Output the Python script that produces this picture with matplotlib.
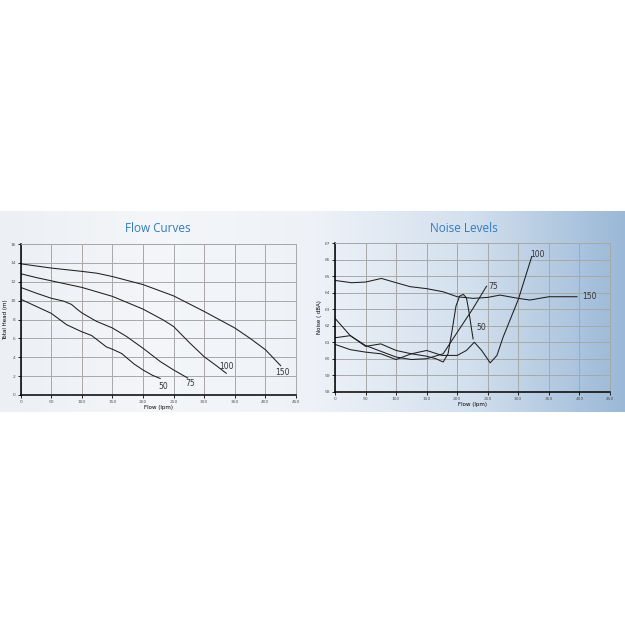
import numpy as np
import matplotlib
matplotlib.use("Agg")
import matplotlib.pyplot as plt
from matplotlib.colors import LinearSegmentedColormap

# Flow curves: flow (lpm) vs total head (m), per pump size
flow_50 = [0, 25, 50, 75, 100, 116, 128, 140, 150, 165, 185, 200, 215, 228]
head_50 = [10.15, 9.4, 8.65, 7.45, 6.7, 6.3, 5.7, 5.1, 4.85, 4.4, 3.3, 2.65, 2.1, 1.75]
flow_75 = [0, 25, 50, 70, 83, 92, 100, 124, 150, 173, 200, 228, 250, 273]
head_75 = [11.4, 10.8, 10.25, 9.95, 9.6, 9.1, 8.7, 7.8, 7.1, 6.2, 4.95, 3.55, 2.65, 1.8]
flow_100 = [0, 25, 50, 100, 150, 200, 233, 250, 275, 300, 320, 336]
head_100 = [12.85, 12.45, 12.1, 11.4, 10.45, 9.1, 7.95, 7.25, 5.6, 4.05, 3.1, 2.3]
flow_150 = [0, 50, 100, 125, 150, 200, 250, 300, 350, 375, 400, 425]
head_150 = [13.9, 13.45, 13.1, 12.9, 12.55, 11.7, 10.5, 8.85, 7.1, 6.0, 4.8, 3.1]

# Noise levels: flow (lpm) vs noise dB(A)
nflow_50 = [0, 25, 50, 75, 100, 125, 150, 165, 177, 185, 192, 198, 204, 210, 215, 219, 223, 226]
noise_50 = [62.45, 61.4, 60.75, 60.9, 60.5, 60.3, 60.15, 60.0, 59.8, 60.3, 61.8, 63.2, 63.8, 63.9, 63.7, 62.9, 61.9, 61.2]
nflow_75 = [0, 25, 50, 75, 100, 125, 150, 177, 200, 225, 248]
noise_75 = [61.27, 61.4, 60.8, 60.45, 60.1, 59.95, 60.0, 60.3, 61.6, 63.0, 64.4]
nflow_100 = [0, 25, 50, 75, 100, 125, 150, 175, 200, 215, 228, 240, 254, 265, 275, 300, 322]
noise_100 = [60.87, 60.55, 60.4, 60.3, 59.95, 60.3, 60.5, 60.2, 60.2, 60.5, 61.0, 60.5, 59.75, 60.2, 61.3, 63.6, 66.2]
nflow_150 = [0, 27, 50, 76, 100, 123, 150, 177, 200, 226, 250, 270, 300, 319, 350, 374, 396]
noise_150 = [64.75, 64.61, 64.65, 64.87, 64.61, 64.37, 64.25, 64.06, 63.76, 63.66, 63.72, 63.86, 63.66, 63.56, 63.76, 63.76, 63.76]

flow_ticks = list(range(0, 451, 50))
head_ticks = list(range(0, 17, 2))
noise_ticks = list(range(58, 68))

line_col = "#1e1e1e"
title_col = "#2f7cc0"

fig = plt.figure(figsize=(6.25, 6.25), dpi=100)
fig.patch.set_facecolor("white")

# gradient band behind the two charts
band = fig.add_axes([0, 0.3408, 1, 0.3216], zorder=0)
left_cmap = LinearSegmentedColormap.from_list("l", ["#eceff4", "#f4f6f9", "#eef2f7"])
right_cmap = LinearSegmentedColormap.from_list("r", ["#eef2f8", "#d3e0ee", "#9ab8d7"])
g = np.linspace(0, 1, 256).reshape(1, -1)
band.imshow(g, cmap=left_cmap, aspect="auto", extent=[0, 0.5, 0, 1])
band.imshow(g, cmap=right_cmap, aspect="auto", extent=[0.5, 1, 0, 1])
band.set_xlim(0, 1)
band.set_ylim(0, 1)
band.axis("off")


def style_axes(ax):
    ax.set_facecolor("none")
    ax.grid(True, color="#a8a8a8", lw=0.7)
    ax.set_axisbelow(True)
    for s in ["top", "right"]:
        ax.spines[s].set_color("#a8a8a8")
        ax.spines[s].set_linewidth(0.7)
    for s in ["left", "bottom"]:
        ax.spines[s].set_color("black")
        ax.spines[s].set_linewidth(1.1)
    ax.tick_params(length=2, width=0.6, labelsize=3.2, labelcolor="#555555", pad=1.5)


# Flow curves
ax1 = fig.add_axes([0.0331, 0.368, 0.4405, 0.2416], zorder=2)
style_axes(ax1)
for fx, hy in [(flow_50, head_50), (flow_75, head_75), (flow_100, head_100), (flow_150, head_150)]:
    ax1.plot(fx, hy, color=line_col, lw=0.75)
ax1.set_xlim(0, 450)
ax1.set_ylim(0, 16)
ax1.set_xticks(flow_ticks)
ax1.set_yticks(head_ticks)
ax1.set_xlabel("Flow (lpm)", fontsize=4, labelpad=1)
ax1.set_ylabel("Total Head (m)", fontsize=4, labelpad=2)
for lbl, x, y in [("50", 233, 0.9), ("75", 277, 1.25), ("100", 337, 3.05), ("150", 428, 2.4)]:
    ax1.text(x, y, lbl, fontsize=5.5, color="#333333", ha="center", va="center")
fig.text(0.253, 0.634, "Flow Curves", fontsize=8.5, color=title_col, ha="center", va="center",
         family="Open Sans")

# Noise levels
ax2 = fig.add_axes([0.536, 0.3733, 0.44, 0.2374], zorder=2)
style_axes(ax2)
for fx, ny in [(nflow_50, noise_50), (nflow_75, noise_75), (nflow_100, noise_100), (nflow_150, noise_150)]:
    ax2.plot(fx, ny, color=line_col, lw=0.75)
ax2.set_xlim(0, 450)
ax2.set_ylim(58, 67)
ax2.set_xticks(flow_ticks)
ax2.set_yticks(noise_ticks)
ax2.set_xlabel("Flow (lpm)", fontsize=4, labelpad=1)
ax2.set_ylabel("Noise ( dBA)", fontsize=4, labelpad=2)
for lbl, x, y in [("100", 332, 66.3), ("75", 259, 64.4), ("50", 239, 61.9), ("150", 417, 63.75)]:
    ax2.text(x, y, lbl, fontsize=5.5, color="#333333", ha="center", va="center")
fig.text(0.742, 0.634, "Noise Levels", fontsize=8.5, color=title_col, ha="center", va="center",
         family="Open Sans")

fig.savefig("out.png", dpi=100)
